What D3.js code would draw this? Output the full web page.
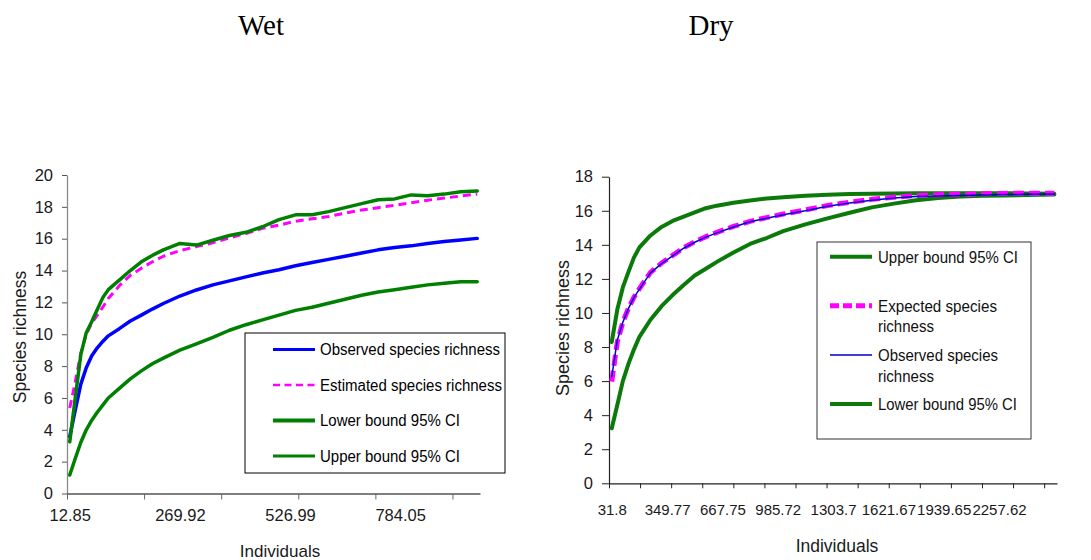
<!DOCTYPE html>
<html><head><meta charset="utf-8">
<script src="https://cdn.jsdelivr.net/npm/d3@7"></script>
<style>
body{margin:0;background:#fff}
svg{display:block}
text{font-family:"Liberation Sans",Arial,sans-serif;fill:#1a1a1a}
</style>
</head><body>
<svg id="c" width="1091" height="560"></svg>
<script>
// ---------- DATA ----------
const titles = ["Wet", "Dry"];

// Wet (individuals on x)
const wetX = [12.85, 25.71, 38.56, 51.41, 64.27, 77.12, 89.97, 102.82, 128.53, 154.24, 179.94, 205.65, 231.36, 269.92, 308.48, 347.03, 385.59, 424.15, 462.71, 501.27, 539.83, 578.39, 616.95, 655.50, 694.06, 732.62, 771.18, 809.74, 848.30, 886.86, 925.41, 963.97];
const wetObserved  = [3.57, 5.24, 6.85, 7.9, 8.65, 9.15, 9.55, 9.9, 10.35, 10.83, 11.2, 11.58, 11.93, 12.4, 12.78, 13.1, 13.35, 13.6, 13.85, 14.05, 14.3, 14.5, 14.7, 14.9, 15.1, 15.3, 15.45, 15.55, 15.7, 15.82, 15.92, 16.02];
const wetEstimated = [5.37, 7.0, 8.8, 10.0, 10.7, 11.2, 11.7, 12.25, 13.05, 13.7, 14.15, 14.55, 14.9, 15.25, 15.5, 15.75, 16.05, 16.33, 16.65, 16.85, 17.1, 17.25, 17.4, 17.6, 17.8, 17.95, 18.1, 18.25, 18.42, 18.55, 18.68, 18.8];
const wetLower     = [1.16, 2.2, 3.2, 4.0, 4.6, 5.1, 5.55, 6.0, 6.6, 7.2, 7.7, 8.15, 8.5, 9.0, 9.4, 9.8, 10.25, 10.6, 10.9, 11.2, 11.5, 11.7, 11.95, 12.2, 12.45, 12.65, 12.8, 12.95, 13.1, 13.2, 13.3, 13.3];
const wetUpper     = [3.25, 6.0, 8.7, 10.1, 10.8, 11.55, 12.3, 12.8, 13.4, 14.0, 14.55, 14.95, 15.3, 15.7, 15.6, 15.9, 16.2, 16.4, 16.75, 17.2, 17.5, 17.5, 17.7, 17.95, 18.2, 18.45, 18.5, 18.75, 18.7, 18.8, 18.95, 19.0];
const wetXLabels = [12.85, 269.92, 526.99, 784.05];
const wetYTicks = [0, 2, 4, 6, 8, 10, 12, 14, 16, 18, 20];
const wetLegend = ["Observed species richness", "Estimated species richness", "Lower bound 95% CI", "Upper bound 95% CI"];

// Dry
const dryX = [31.8, 63.59, 95.39, 127.19, 158.99, 190.78, 254.38, 317.97, 381.56, 445.16, 508.75, 572.35, 635.94, 731.33, 826.72, 922.11, 1017.5, 1144.7, 1271.9, 1399.1, 1526.3, 1653.5, 1780.6, 1907.8, 2035.0, 2162.2, 2289.4, 2416.6, 2575.6];
const dryUpper    = [8.3, 10.2, 11.5, 12.4, 13.25, 13.85, 14.55, 15.05, 15.4, 15.65, 15.9, 16.15, 16.3, 16.47, 16.6, 16.72, 16.8, 16.88, 16.94, 16.98, 17.0, 17.02, 17.03, 17.03, 17.03, 17.03, 17.03, 17.02, 17.0];
const dryExpected = [5.97, 8.3, 9.45, 10.27, 10.92, 11.43, 12.38, 12.93, 13.38, 13.83, 14.18, 14.48, 14.73, 15.08, 15.38, 15.6, 15.81, 16.05, 16.31, 16.5, 16.67, 16.8, 16.89, 16.94, 16.97, 17.0, 17.02, 17.03, 17.03];
const dryObserved = [6.26, 8.4, 9.45, 10.25, 10.9, 11.4, 12.35, 12.9, 13.35, 13.8, 14.15, 14.45, 14.7, 15.05, 15.35, 15.56, 15.77, 16.0, 16.27, 16.45, 16.62, 16.75, 16.84, 16.87, 16.9, 16.93, 16.95, 16.97, 16.98];
const dryLower    = [3.23, 4.6, 6.0, 7.0, 7.85, 8.6, 9.6, 10.4, 11.05, 11.64, 12.2, 12.6, 13.0, 13.55, 14.05, 14.4, 14.8, 15.2, 15.55, 15.88, 16.2, 16.42, 16.62, 16.75, 16.84, 16.88, 16.9, 16.93, 16.95];
const dryXLabels = [31.8, 349.77, 667.75, 985.72, 1303.7, 1621.67, 1939.65, 2257.62];
const dryYTicks = [0, 2, 4, 6, 8, 10, 12, 14, 16, 18];
const dryLegend = [["Upper bound 95% CI"], ["Expected species", "richness"], ["Observed species", "richness"], ["Lower bound 95% CI"]];

// ---------- DRAW ----------
const svg = d3.select("#c");
svg.append("rect").attr("width", 1091).attr("height", 560).attr("fill", "#fff");

// Titles
[[261, titles[0]], [711, titles[1]]].forEach(([x, t]) => {
  svg.append("text").attr("x", x).attr("y", 35).attr("text-anchor", "middle")
    .style("font-family", '"Liberation Serif","Times New Roman",serif')
    .style("font-size", "29px").style("fill", "#000").text(t);
});

function drawLine(g, xs, ys, xS, yS, style) {
  const line = d3.line().x((d, i) => xS(xs[i])).y(d => yS(d)).curve(d3.curveLinear);
  g.append("path").datum(ys).attr("d", line)
    .attr("fill", "none").attr("stroke", style.color).attr("stroke-width", style.width)
    .attr("stroke-dasharray", style.dash || null)
    .attr("stroke-linejoin", "round").attr("stroke-linecap", style.dash ? "butt" : "round");
}

// ===== WET =====
{
  const g = svg.append("g");
  const x = d3.scaleLinear().domain([6.43, 970.4]).range([67, 480]);
  const y = d3.scaleLinear().domain([0, 20]).range([493.5, 175]);

  const ya = g.append("g").attr("transform", "translate(67,0)")
    .call(d3.axisLeft(y).tickValues(wetYTicks).tickSize(5).tickSizeOuter(0).tickPadding(9));
  ya.select(".domain").attr("stroke", "#8a8a8a").attr("stroke-width", 1.3);
  ya.selectAll(".tick line").attr("stroke", "#555");
  ya.selectAll("text").style("font-size", "16.5px").style("fill", "#1a1a1a");

  const xa = g.append("g").attr("transform", "translate(0,493.5)")
    .call(d3.axisBottom(x).tickValues(d3.range(6.43, 970, 179.94)).tickSize(6).tickSizeOuter(0).tickFormat(""));
  xa.select(".domain").attr("stroke", "#000").attr("stroke-width", 1.2);
  xa.selectAll(".tick line").attr("stroke", "#666");

  const xl = g.append("g").attr("transform", "translate(0,493.5)")
    .call(d3.axisBottom(x).tickValues(wetXLabels).tickSize(0).tickPadding(16).tickFormat(d => String(d)));
  xl.select(".domain").remove();
  xl.selectAll("text").style("font-size", "16.5px").style("fill", "#1a1a1a");

  g.append("text").attr("transform", "translate(26,337) rotate(-90)").attr("text-anchor", "middle")
    .style("font-size", "17.5px").text("Species richness");
  g.append("text").attr("x", 280).attr("y", 557).attr("text-anchor", "middle")
    .style("font-size", "17px").text("Individuals");

  const styles = [
    {color: "#0000ff", width: 3.5},
    {color: "#ff00ff", width: 3, dash: "8,5"},
    {color: "#008000", width: 3.5},
    {color: "#008000", width: 3.5}
  ];
  drawLine(g, wetX, wetLower, x, y, styles[2]);
  drawLine(g, wetX, wetObserved, x, y, styles[0]);
  drawLine(g, wetX, wetEstimated, x, y, styles[1]);
  drawLine(g, wetX, wetUpper, x, y, styles[3]);

  // legend
  g.append("rect").attr("x", 245).attr("y", 333).attr("width", 260).attr("height", 140)
    .attr("fill", "#fff").attr("stroke", "#000").attr("stroke-width", 1);
  const legStyles = [
    {color: "#0000ff", width: 3},
    {color: "#ff00ff", width: 2.5, dash: "7,4.5"},
    {color: "#008000", width: 4},
    {color: "#008000", width: 3}
  ];
  const legLen = [180, 182, 140, 140];
  wetLegend.forEach((t, i) => {
    const cy = 349.5 + i * 35.5;
    g.append("line").attr("x1", 273).attr("x2", 315).attr("y1", cy).attr("y2", cy)
      .attr("stroke", legStyles[i].color).attr("stroke-width", legStyles[i].width)
      .attr("stroke-dasharray", legStyles[i].dash || null);
    g.append("text").attr("x", 320).attr("y", cy).attr("dy", "0.35em")
      .attr("textLength", legLen[i]).attr("lengthAdjust", "spacingAndGlyphs")
      .style("font-size", "16px").style("fill", "#000").text(t);
  });
}

// ===== DRY =====
{
  const g = svg.append("g");
  const x = d3.scaleLinear().domain([15.9, 2591]).range([609, 1057]);
  const y = d3.scaleLinear().domain([0, 18]).range([483.3, 176.7]);

  const ya = g.append("g").attr("transform", "translate(609,0)")
    .call(d3.axisLeft(y).tickValues(dryYTicks).tickSize(7).tickSizeOuter(0).tickPadding(9));
  ya.select(".domain").attr("stroke", "#222").attr("stroke-width", 1.2);
  ya.selectAll(".tick line").attr("stroke", "#222");
  ya.selectAll("text").style("font-size", "16.5px").style("fill", "#1a1a1a");

  const xa = g.append("g").attr("transform", "translate(0,483.3)")
    .call(d3.axisBottom(x).tickValues(d3.range(15.9, 2590, 178.66)).tickSize(5).tickSizeOuter(0).tickFormat(""));
  xa.select(".domain").attr("stroke", "#222").attr("stroke-width", 1.2);
  xa.selectAll(".tick line").attr("stroke", "#222");

  const xl = g.append("g").attr("transform", "translate(0,483.3)")
    .call(d3.axisBottom(x).tickValues(dryXLabels).tickSize(0).tickPadding(21).tickFormat(d => String(d)));
  xl.select(".domain").remove();
  xl.selectAll("text").style("font-size", "15px").style("fill", "#1a1a1a");

  g.append("text").attr("transform", "translate(569,328) rotate(-90)").attr("text-anchor", "middle")
    .style("font-size", "18px").text("Species richness");
  g.append("text").attr("x", 837).attr("y", 552).attr("text-anchor", "middle")
    .style("font-size", "17.5px").text("Individuals");

  const green = {color: "#0b7a0b", width: 4};
  const mag = {color: "#ff00ff", width: 5, dash: "11,5"};
  const blue = {color: "#0000cc", width: 1.5};
  drawLine(g, dryX, dryUpper, x, y, green);
  drawLine(g, dryX, dryLower, x, y, green);
  drawLine(g, dryX, dryExpected, x, y, mag);
  drawLine(g, dryX, dryObserved, x, y, blue);

  g.append("rect").attr("x", 817).attr("y", 242).attr("width", 214).attr("height", 197)
    .attr("fill", "#fff").attr("stroke", "#333").attr("stroke-width", 1);
  const legStyles = [green, {color: "#ff00ff", width: 5, dash: "9,4"}, blue, green];
  const legLen = [[140], [119, 56], [120, 56], [139]];
  dryLegend.forEach((lines, i) => {
    const cy = 256.7 + i * 49.1;
    g.append("line").attr("x1", 830).attr("x2", 872).attr("y1", cy).attr("y2", cy)
      .attr("stroke", legStyles[i].color).attr("stroke-width", legStyles[i].width)
      .attr("stroke-dasharray", legStyles[i].dash || null);
    lines.forEach((t, j) => {
      g.append("text").attr("x", 878).attr("y", cy + j * 20.7).attr("dy", "0.35em")
        .attr("textLength", legLen[i][j]).attr("lengthAdjust", "spacingAndGlyphs")
        .style("font-size", "17px").style("fill", "#111").text(t);
    });
  });
}
</script>
</body></html>
